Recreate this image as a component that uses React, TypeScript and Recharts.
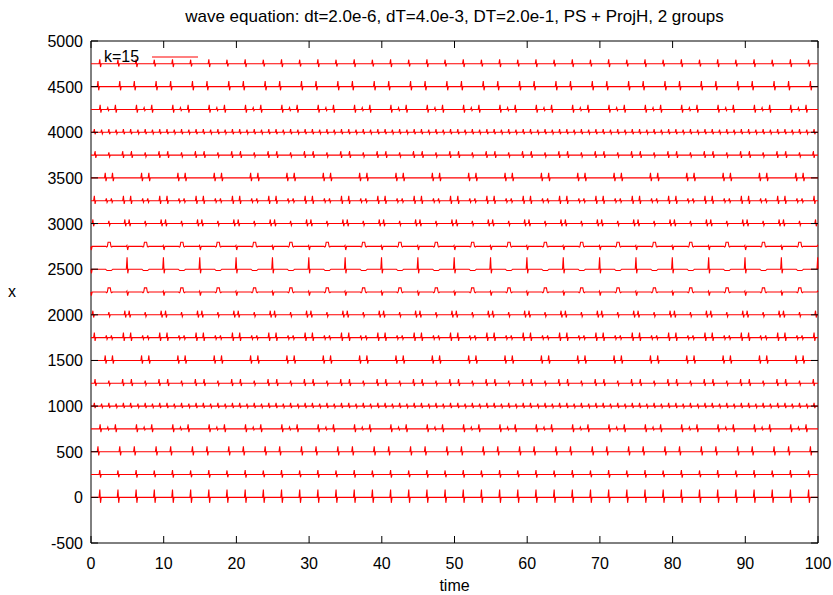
import { LineChart, Line, XAxis, YAxis, ReferenceArea } from "recharts"

// one trace every 250 in x, each drawn around its own offset
const traceOffsets = [0, 250, 500, 750, 1000, 1250, 1500, 1750, 2000, 2250, 2500, 2750, 3000, 3250, 3500, 3750, 4000, 4250, 4500, 4750]
const timeTicks = [0, 10, 20, 30, 40, 50, 60, 70, 80, 90, 100]
const xTicks = [-500, 0, 500, 1000, 1500, 2000, 2500, 3000, 3500, 4000, 4500, 5000]

const PERIOD = 5
const T_MAX = 100

// events inside one period of 5: [time, kind, up, down]
// s = spike (up then down), d = down spike, b = bump, w = shallow dip
type Ev = [number, string, number, number]
const pattern0: Ev[] = [[1.25, "s", 85, 60], [3.75, "s", 85, 60]]
const pattern1: Ev[] = [[1.25, "s", 50, 35], [3.75, "s", 45, 30]]
const pattern2: Ev[] = [[1.0, "s", 60, 40], [4.0, "s", 60, 40]]
const pattern3: Ev[] = [[1.3, "s", 50, 35], [2.35, "s", 20, 12], [3.4, "s", 50, 35]]
const pattern4: Ev[] = [[0.5, "s", 35, 22], [1.5, "s", 28, 18], [2.5, "s", 35, 22], [3.5, "s", 28, 18], [4.5, "s", 35, 22]]
const pattern5: Ev[] = [[0.6, "s", 45, 30], [2.5, "s", 30, 20], [4.4, "s", 45, 30]]
const pattern6: Ev[] = [[2.0, "s", 55, 35], [3.0, "s", 55, 35]]
const pattern7: Ev[] = [[0.5, "s", 55, 35], [2.15, "s", 25, 18], [2.85, "s", 25, 18], [4.5, "s", 55, 35]]
const pattern8: Ev[] = [[0.3, "s", 45, 30], [2.5, "s", 30, 20], [4.7, "s", 45, 30]]
const pattern9: Ev[] = [[0, "d", 10, 40], [2.5, "b", 45, 8]]
const pattern10: Ev[] = [[0, "s", 130, 45], [2.5, "w", 15, 0]]
const tracePatterns = [pattern0, pattern1, pattern2, pattern3, pattern4, pattern5, pattern6, pattern7, pattern8, pattern9, pattern10]

const W = 833
const H = 595
const PLOT_TOP = 41
const PLOT_BOTTOM = 543
const PLOT_LEFT = 91
const PLOT_RIGHT = 818
const TICK = 7
const FONT = "'Liberation Sans', Arial, sans-serif"

function shape([t, kind, up, down]: Ev): [number, number][] {
  if (kind === "d") return [[t - 0.14, 0], [t - 0.06, up], [t + 0.04, -down], [t + 0.16, 0]]
  if (kind === "b")
    return [[t - 0.45, 0], [t - 0.35, -down], [t - 0.25, 0], [t - 0.15, up], [t + 0.15, up], [t + 0.25, 0], [t + 0.35, -down], [t + 0.45, 0]]
  if (kind === "w") return [[t - 0.5, 0], [t - 0.3, -up], [t + 0.3, -up], [t + 0.5, 0]]
  return [[t - 0.14, 0], [t - 0.04, up], [t + 0.06, -down], [t + 0.16, 0]]
}

function buildTrace(offset: number, events: Ev[]) {
  const pts = [{ t: 0, v: offset }, { t: T_MAX, v: offset }]
  for (let p = -1; p <= T_MAX / PERIOD; p++) {
    for (const ev of events) {
      for (const [dt, dv] of shape(ev)) {
        const t = p * PERIOD + dt
        if (t > 0 && t < T_MAX) pts.push({ t, v: offset + dv })
      }
    }
  }
  return pts.sort((a, b) => a.t - b.t)
}

const traces = traceOffsets.map((off, i) => buildTrace(off, tracePatterns[Math.min(i, 20 - i)]))

function TimeTick({ x, payload }: any) {
  return (
    <g>
      <line x1={x} x2={x} y1={PLOT_BOTTOM} y2={PLOT_BOTTOM - TICK} stroke="#000" />
      <line x1={x} x2={x} y1={PLOT_TOP} y2={PLOT_TOP + TICK} stroke="#000" />
      <text x={x} y={PLOT_BOTTOM + 26} textAnchor="middle" fontSize={16} fontFamily={FONT} fill="#000">
        {payload.value}
      </text>
    </g>
  )
}

function XTick({ y, payload }: any) {
  return (
    <g>
      <line x1={PLOT_LEFT} x2={PLOT_LEFT + TICK} y1={y} y2={y} stroke="#000" />
      <line x1={PLOT_RIGHT} x2={PLOT_RIGHT - TICK} y1={y} y2={y} stroke="#000" />
      <text x={PLOT_LEFT - 8} y={y + 6} textAnchor="end" fontSize={16} fontFamily={FONT} fill="#000">
        {payload.value}
      </text>
    </g>
  )
}

const textStyle = { position: "absolute" as const, fontFamily: FONT, fontSize: 16, color: "#000", whiteSpace: "nowrap" as const, lineHeight: "16px" }

export default function App() {
  return (
    <div style={{ position: "relative", width: W, height: H, background: "#fff" }}>
      <style>{"body{margin:0}"}</style>
      <LineChart width={W} height={H} margin={{ top: PLOT_TOP, right: W - PLOT_RIGHT, bottom: 0, left: 0 }}>
        <XAxis dataKey="t" type="number" domain={[0, 100]} ticks={timeTicks} height={H - PLOT_BOTTOM} axisLine={false} tickLine={false} tick={<TimeTick />} interval={0} />
        <YAxis type="number" domain={[-500, 5000]} ticks={xTicks} width={PLOT_LEFT} axisLine={false} tickLine={false} tick={<XTick />} interval={0} />
        {traces.map((data, i) => (
          <Line key={i} data={data} dataKey="v" type="linear" stroke="#ff0000" strokeWidth={1.1} dot={false} isAnimationActive={false} />
        ))}
        <ReferenceArea x1={0} x2={100} y1={-500} y2={5000} fill="none" stroke="#000" strokeWidth={1} ifOverflow="visible" />
      </LineChart>
      <div style={{ ...textStyle, left: 0, width: W, top: 8, fontSize: 17, lineHeight: "17px", textAlign: "center", paddingLeft: 76, boxSizing: "border-box" }}>
        wave equation: dt=2.0e-6, dT=4.0e-3, DT=2.0e-1, PS + ProjH, 2 groups
      </div>
      <div style={{ ...textStyle, left: 0, width: W, top: 578, textAlign: "center", paddingLeft: 76, boxSizing: "border-box" }}>time</div>
      <div style={{ ...textStyle, left: 8, top: 284 }}>x</div>
      <div style={{ ...textStyle, left: 104, top: 49 }}>k=15</div>
      <svg style={{ position: "absolute", left: 150, top: 52 }} width={52} height={10}>
        <line x1={2} x2={48} y1={5} y2={5} stroke="#ff0000" strokeWidth={1.2} />
      </svg>
    </div>
  )
}
